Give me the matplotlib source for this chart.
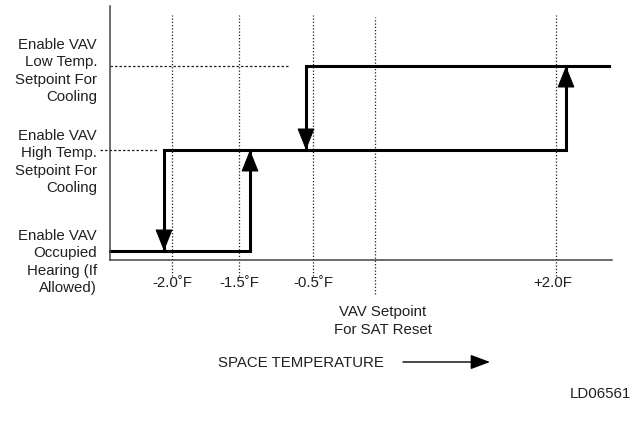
import matplotlib
matplotlib.use('Agg')
import matplotlib.pyplot as plt

plt.rcParams['font.family'] = ['Liberation Sans', 'DejaVu Sans']

# schematic positions (diagram units, origin at axes corner)
mark_x = [62, 129, 203, 265, 446]
mark_labels = ['-2.0\u02daF', '-1.5\u02daF', '-0.5\u02daF', '', '+2.0F']
label_x = [62, 129, 203, 265, 443]

level_y = [9, 110, 194]  # occupied heating, high temp sp, low temp sp
level_labels = ['Enable VAV\nOccupied\nHearing (If\nAllowed)',
                'Enable VAV\nHigh Temp.\nSetpoint For\nCooling',
                'Enable VAV\nLow Temp.\nSetpoint For\nCooling']
label_y = [-1, 99, 190]

# switching points along the temperature axis
switch_up = [140, 456]     # rising temperature
switch_down = [54, 196]    # falling temperature
line_end = 499

ink = '#231f20'

fig = plt.figure(figsize=(6.32, 4.31), dpi=100)
W, H = 632, 431
ax = fig.add_axes([110 / W, (431 - 261) / H, 502 / W, 254 / H])
ax.set_xlim(0, 502)
ax.set_ylim(0, 254)
for s in ['top', 'right']:
    ax.spines[s].set_visible(False)
for s in ['left', 'bottom']:
    ax.spines[s].set_color('#444444')
    ax.spines[s].set_linewidth(1.1)
ax.set_xticks([])
ax.set_yticks([])

# dotted reference lines
for i, x in enumerate(mark_x):
    y0 = -34 if i == 3 else -16
    top = 243 if i == 3 else 245
    ax.plot([x, x], [y0, top], color=ink, lw=0.9, ls=(0, (1, 1.6)), clip_on=False)
ax.plot([0, 178], [level_y[2], level_y[2]], color=ink, lw=0.9, ls=(0, (2, 1.6)), clip_on=False)
ax.plot([-10, 48], [level_y[1], level_y[1]], color=ink, lw=0.9, ls=(0, (2, 1.6)), clip_on=False)

# hysteresis steps
lw = 2.2
ax.plot([0, switch_up[0], switch_up[0]], [level_y[0], level_y[0], level_y[1]],
        color='black', lw=lw, solid_joinstyle='miter', clip_on=False)
ax.plot([switch_down[0], switch_down[0], switch_up[1], switch_up[1]],
        [level_y[0], level_y[1], level_y[1], level_y[2]],
        color='black', lw=lw, solid_joinstyle='miter', clip_on=False)
ax.plot([switch_down[1], switch_down[1], line_end], [level_y[1], level_y[2], level_y[2]],
        color='black', lw=lw, solid_joinstyle='miter', clip_on=False)

head = dict(arrowstyle='-|>,head_length=0.7,head_width=0.28', mutation_scale=20,
            color='black', lw=0.8, shrinkA=0, shrinkB=0)
for i, x in enumerate(switch_up):
    tip = level_y[i + 1]
    ax.annotate('', xy=(x, tip), xytext=(x, tip - 30), arrowprops=head)
for i, x in enumerate(switch_down):
    tip = level_y[i]
    ax.annotate('', xy=(x, tip), xytext=(x, tip + 30), arrowprops=head)

fs = 10.8
for lab, y in zip(level_labels, label_y):
    ax.text(-13, y, lab, ha='right', va='center', multialignment='right',
            fontsize=fs, color=ink, linespacing=1.33)
for lab, x in zip(mark_labels, label_x):
    if lab:
        ax.text(x, -22, lab, ha='center', va='center', fontsize=fs, color=ink)
ax.text(273, -60, 'VAV Setpoint\nFor SAT Reset', ha='center', va='center',
        fontsize=fs, color=ink, linespacing=1.33)
ax.text(108, -102, 'SPACE TEMPERATURE', ha='left', va='center', fontsize=fs, color=ink)
ax.annotate('', xy=(380, -102), xytext=(293, -102), annotation_clip=False,
            arrowprops=dict(arrowstyle='-|>,head_length=0.8,head_width=0.3',
                            mutation_scale=15, color='black', lw=1.0, shrinkA=0, shrinkB=0))
ax.text(521, -133, 'LD06561', ha='right', va='center', fontsize=fs, color=ink)

fig.savefig('out.png', dpi=100)
